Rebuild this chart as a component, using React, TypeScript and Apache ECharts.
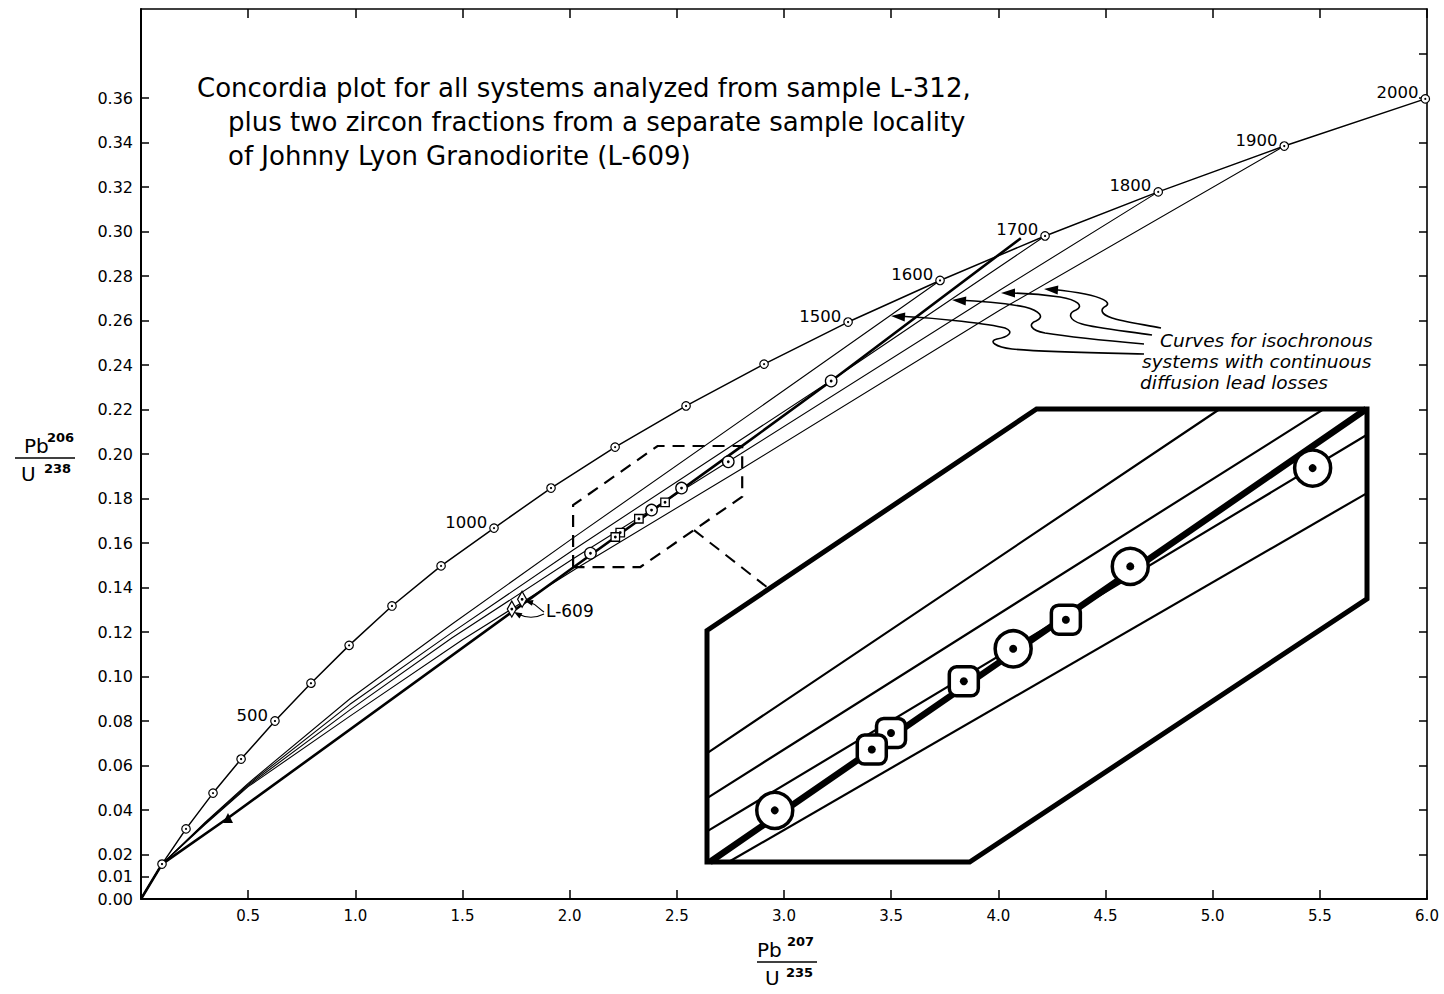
import React, { useEffect, useRef } from "react";
import * as echarts from "echarts";

// ---------- data ----------
const X_TICKS = [0.5, 1.0, 1.5, 2.0, 2.5, 3.0, 3.5, 4.0, 4.5, 5.0, 5.5, 6.0];
const Y_TICKS = [0.0, 0.01, 0.02, 0.04, 0.06, 0.08, 0.1, 0.12, 0.14, 0.16, 0.18, 0.2, 0.22, 0.24, 0.26, 0.28, 0.3, 0.32, 0.34, 0.36];
const Y_TICKS_RIGHT = [0.02, 0.04, 0.06, 0.08, 0.1, 0.12, 0.14, 0.16, 0.18, 0.2, 0.22, 0.24, 0.26, 0.28, 0.3, 0.32, 0.34, 0.36, 0.38];

const CONCORDIA_AGES = [100, 200, 300, 400, 500, 600, 700, 800, 900, 1000, 1100, 1200, 1300, 1400, 1500, 1600, 1700, 1800, 1900, 2000];
const CONCORDIA_X = [0.098, 0.21, 0.336, 0.467, 0.625, 0.793, 0.971, 1.171, 1.4, 1.647, 1.913, 2.212, 2.543, 2.907, 3.299, 3.728, 4.218, 4.746, 5.334, 5.992];
const CONCORDIA_Y = [0.0157, 0.0315, 0.0476, 0.0629, 0.08, 0.097, 0.114, 0.1317, 0.1497, 0.1667, 0.1847, 0.2031, 0.2216, 0.2404, 0.2593, 0.278, 0.298, 0.3178, 0.3384, 0.3596];
const LABELED_AGES = [500, 1000, 1500, 1600, 1700, 1800, 1900, 2000];

const CURVE_1600 = [[0, 0], [0.098, 0.0157], [0.3, 0.0345], [0.5, 0.052], [0.975, 0.09], [1.45, 0.1235], [2.018, 0.1624], [2.982, 0.2274], [3.728, 0.278]];
const CURVE_1700 = [[0, 0], [0.098, 0.0157], [0.3, 0.0342], [0.5, 0.0515], [0.975, 0.0875], [1.45, 0.1197], [2.018, 0.157], [2.736, 0.2025], [3.22, 0.233], [4.218, 0.298]];
const CURVE_1800 = [[0, 0], [0.098, 0.0157], [0.3, 0.0339], [0.5, 0.051], [0.975, 0.085], [1.45, 0.1173], [2.018, 0.153], [2.8, 0.2002], [4.008, 0.2737], [4.746, 0.3178]];
const CURVE_1900 = [[0, 0], [0.098, 0.0157], [0.3, 0.0336], [0.5, 0.0505], [0.975, 0.0822], [1.5, 0.1165], [2.04, 0.1491], [2.805, 0.1935], [4.008, 0.2647], [5.334, 0.3384]];
const DATA_LINE = [[0, 0], [0.098, 0.0157], [0.406, 0.0364], [2.018, 0.1491], [2.8, 0.2033], [3.22, 0.2328], [4.105, 0.297]];

const CIRCLES = [[2.097, 0.1554], [2.382, 0.1748], [2.522, 0.1847], [2.74, 0.1965], [3.22, 0.2328]];
const SQUARES = [[2.236, 0.1647], [2.213, 0.1627], [2.323, 0.1709], [2.445, 0.1783]];
const DIAMONDS = [[1.73, 0.1303], [1.778, 0.1347]];
const TRIANGLES = [[0.406, 0.0364]];

// magnified region (dashed outline in main plot = outline of inset)
const BOX = [[2.016, 0.1492], [2.016, 0.177], [2.41, 0.2036], [2.805, 0.2036], [2.805, 0.1808], [2.33, 0.1492]];
const INSET_X = [2.016, 2.805];
const INSET_Y = [0.1492, 0.2036];
const CONNECTOR_FROM = [2.58, 0.1658];
const CONNECTOR_TO = [2.089, 0.1821];

const TITLE_LINES = [
  "Concordia plot for all systems analyzed from sample L-312,",
  "plus two zircon fractions from a separate sample locality",
  "of Johnny Lyon Granodiorite (L-609)",
];
const NOTE_LINES = ["Curves for isochronous", "systems with continuous", "diffusion lead losses"];

// ---------- decorative arrow paths ----------
const ARROW_PATHS = [
  "M 1144 354 C 1100 353, 1040 352, 1012 349 C 995 347, 988 341, 997 339 C 1008 337, 1015 332, 1005 328 C 990 324, 940 318, 897 316",
  "M 1144 344 C 1110 341, 1070 337, 1045 333 C 1030 330, 1028 324, 1036 321 C 1045 317, 1040 311, 1025 307 C 1005 303, 980 301, 957 300",
  "M 1152 335 C 1125 331, 1095 328, 1082 324 C 1068 320, 1068 313, 1076 310 C 1084 306, 1078 300, 1060 297 C 1040 294, 1020 293, 1006 293",
  "M 1161 328 C 1140 324, 1120 321, 1112 318 C 1100 314, 1100 309, 1106 306 C 1112 302, 1100 297, 1085 294 C 1070 291, 1058 290, 1049 289",
  "M 544 612 C 538 608, 536 604, 529 602",
  "M 544 614 C 538 617, 528 619, 518 614",
];
const ARROW_HEADS = [
  [[891, 316], [905, 317]],
  [[952, 300], [966, 301]],
  [[1001, 293], [1015, 293]],
  [[1044, 289], [1058, 290]],
  [[525, 601], [533, 603]],
  [[514, 612], [521, 616]],
];

ARROW_PATHS.forEach((d, i) => {
  echarts.graphic.registerShape("wavyArrow" + i, echarts.graphic.extendPath(d, {}) as any);
});

const FONT = '"DejaVu Sans", "Noto Sans", sans-serif';

function head(tip: number[], from: number[], len = 13, half = 4.2) {
  const dx = tip[0] - from[0];
  const dy = tip[1] - from[1];
  const l = Math.hypot(dx, dy) || 1;
  const ux = dx / l, uy = dy / l;
  const bx = tip[0] - ux * len, by = tip[1] - uy * len;
  return [tip, [bx - uy * half, by + ux * half], [bx + uy * half, by - ux * half]];
}

// Cyrus–Beck clip of a segment against a convex polygon (pixel space)
function clipSeg(a: number[], b: number[], poly: number[][]) {
  let area = 0;
  for (let i = 0; i < poly.length; i++) {
    const p = poly[i], q = poly[(i + 1) % poly.length];
    area += p[0] * q[1] - q[0] * p[1];
  }
  const s = area > 0 ? 1 : -1;
  let t0 = 0, t1 = 1;
  const dx = b[0] - a[0], dy = b[1] - a[1];
  for (let i = 0; i < poly.length; i++) {
    const p = poly[i], q = poly[(i + 1) % poly.length];
    const ex = q[0] - p[0], ey = q[1] - p[1];
    const num = s * (ex * (a[1] - p[1]) - ey * (a[0] - p[0]));
    const den = s * (ex * dy - ey * dx);
    if (Math.abs(den) < 1e-12) {
      if (num < 0) return null;
      continue;
    }
    const t = -num / den;
    if (den > 0) t0 = Math.max(t0, t);
    else t1 = Math.min(t1, t);
    if (t0 > t1) return null;
  }
  return [[a[0] + t0 * dx, a[1] + t0 * dy], [a[0] + t1 * dx, a[1] + t1 * dy]];
}

function clipPolyline(pts: number[][], poly: number[][]) {
  const lines: number[][][] = [];
  let cur: number[][] | null = null;
  for (let i = 0; i < pts.length - 1; i++) {
    const seg = clipSeg(pts[i], pts[i + 1], poly);
    if (!seg) { cur = null; continue; }
    if (cur && Math.hypot(cur[cur.length - 1][0] - seg[0][0], cur[cur.length - 1][1] - seg[0][1]) < 0.5) {
      cur.push(seg[1]);
    } else {
      cur = [seg[0], seg[1]];
      lines.push(cur);
    }
  }
  return lines;
}

const THIN_CURVES = [CURVE_1600, CURVE_1700, CURVE_1800, CURVE_1900];
const INSET_CURVES = [...THIN_CURVES, DATA_LINE];
const INSET_WIDTHS = [2.2, 2.2, 2.2, 2.2, 6.5];

const inInset = (p: number[]) => p[0] >= INSET_X[0] && p[0] <= INSET_X[1] && p[1] >= INSET_Y[0] && p[1] <= INSET_Y[1];

function buildOption(): any {
  const concordiaData: any[] = [{ value: [0, 0], symbol: "none" }];
  CONCORDIA_AGES.forEach((age, i) => {
    const labelled = LABELED_AGES.includes(age);
    concordiaData.push({
      value: [CONCORDIA_X[i], CONCORDIA_Y[i]],
      label: labelled
        ? { show: true, formatter: String(age), position: "left", distance: 1, offset: [-1, -6], color: "#000", fontSize: 16.5, fontFamily: FONT }
        : { show: false },
    });
  });
  const concordiaDots = CONCORDIA_X.map((x, i) => [x, CONCORDIA_Y[i]]);

  const axisLineStyle = { color: "#000", width: 2 };
  const tickStyle = { color: "#000", width: 1.5 };

  const series: any[] = [
    {
      type: "line", name: "concordia", xAxisIndex: 0, yAxisIndex: 0, data: concordiaData,
      symbol: "circle", symbolSize: 8.5, showSymbol: true,
      lineStyle: { color: "#000", width: 1.5 },
      itemStyle: { color: "#fff", borderColor: "#000", borderWidth: 1.2, opacity: 1 },
      z: 4,
    },
    {
      type: "scatter", xAxisIndex: 0, yAxisIndex: 0, data: concordiaDots, symbol: "circle", symbolSize: 2.2,
      itemStyle: { color: "#000", opacity: 1 }, z: 5, silent: true,
    },
    ...THIN_CURVES.map((c) => ({
      type: "line", xAxisIndex: 0, yAxisIndex: 0, data: c, symbol: "none", smooth: false,
      lineStyle: { color: "#000", width: 1.1 }, z: 2,
    })),
    {
      type: "line", xAxisIndex: 0, yAxisIndex: 0, data: DATA_LINE, symbol: "none",
      lineStyle: { color: "#000", width: 2.6 }, z: 3,
    },
    {
      type: "scatter", xAxisIndex: 0, yAxisIndex: 0, data: CIRCLES, symbol: "circle", symbolSize: 11.5,
      itemStyle: { color: "#fff", borderColor: "#000", borderWidth: 1.3, opacity: 1 }, z: 6,
    },
    {
      type: "scatter", xAxisIndex: 0, yAxisIndex: 0, data: SQUARES, symbol: "rect", symbolSize: 8.5,
      itemStyle: { color: "#fff", borderColor: "#000", borderWidth: 1.3, opacity: 1 }, z: 6,
    },
    {
      type: "scatter", xAxisIndex: 0, yAxisIndex: 0, data: DIAMONDS, symbol: "diamond", symbolSize: [9, 16],
      itemStyle: { color: "#fff", borderColor: "#000", borderWidth: 1.3, opacity: 1 }, z: 6,
    },
    {
      type: "scatter", xAxisIndex: 0, yAxisIndex: 0, data: TRIANGLES, symbol: "triangle", symbolSize: 10,
      itemStyle: { color: "#000", opacity: 1 }, z: 6,
    },
    {
      type: "scatter", xAxisIndex: 0, yAxisIndex: 0, data: [...CIRCLES, ...SQUARES, ...DIAMONDS], symbol: "circle", symbolSize: 2.8,
      itemStyle: { color: "#000", opacity: 1 }, z: 7, silent: true,
    },
    {
      type: "custom", xAxisIndex: 0, yAxisIndex: 0, data: [[2.4, 0.18]], z: 8, silent: true,
      renderItem: (_p: any, api: any) => ({
        type: "polygon",
        shape: { points: BOX.map((pt) => api.coord(pt)) },
        style: { fill: "none", stroke: "#000", lineWidth: 2.2, lineDash: [12, 8] },
      }),
    },
    // ----- inset -----
    {
      type: "custom", xAxisIndex: 2, yAxisIndex: 2, data: [[2.4, 0.18]], z: 10, silent: true,
      renderItem: (_p: any, api: any) => ({
        type: "polygon",
        shape: { points: BOX.map((pt) => api.coord(pt)) },
        style: { fill: "#fff", stroke: "none" },
      }),
    },
    {
      type: "custom", xAxisIndex: 2, yAxisIndex: 2, data: INSET_CURVES.map(() => [2.4, 0.18]), z: 11, silent: true,
      renderItem: (params: any, api: any) => {
        const idx = params.dataIndex;
        const hex = BOX.map((pt) => api.coord(pt));
        const px = INSET_CURVES[idx].map((pt) => api.coord(pt));
        const parts = clipPolyline(px, hex);
        return {
          type: "group",
          children: parts.map((pts) => ({
            type: "polyline",
            shape: { points: pts },
            style: { fill: "none", stroke: "#000", lineWidth: INSET_WIDTHS[idx], lineCap: "butt" },
          })),
        };
      },
    },
    {
      type: "custom", xAxisIndex: 2, yAxisIndex: 2, data: [[2.4, 0.18]], z: 12, silent: true,
      renderItem: (_p: any, api: any) => ({
        type: "polygon",
        shape: { points: BOX.map((pt) => api.coord(pt)) },
        style: { fill: "none", stroke: "#000", lineWidth: 5, lineJoin: "miter" },
      }),
    },
    {
      type: "scatter", xAxisIndex: 2, yAxisIndex: 2, data: CIRCLES.filter(inInset), symbol: "circle", symbolSize: 36,
      itemStyle: { color: "#fff", borderColor: "#000", borderWidth: 3.5, opacity: 1 }, z: 13,
    },
    {
      type: "scatter", xAxisIndex: 2, yAxisIndex: 2, data: SQUARES.filter(inInset), symbol: "roundRect", symbolSize: 29,
      itemStyle: { color: "#fff", borderColor: "#000", borderWidth: 3.5, opacity: 1 }, z: 13,
    },
    {
      type: "scatter", xAxisIndex: 2, yAxisIndex: 2, data: [...CIRCLES, ...SQUARES].filter(inInset), symbol: "circle", symbolSize: 8,
      itemStyle: { color: "#000", opacity: 1 }, z: 14, silent: true,
    },
  ];

  const graphic: any[] = [];
  TITLE_LINES.forEach((t, i) => {
    graphic.push({
      type: "text", x: i === 0 ? 197 : 228, y: 88 + i * 34, z: 20,
      style: { text: t, fontSize: 26, fontFamily: FONT, fill: "#000", textVerticalAlign: "middle", verticalAlign: "middle" },
    });
  });
  const noteX = [1160, 1142, 1140];
  NOTE_LINES.forEach((t, i) => {
    graphic.push({
      type: "text", x: noteX[i], y: 340 + i * 21, z: 20,
      style: { text: t, fontSize: 18.5, fontStyle: "italic", fontFamily: FONT, fill: "#000", textVerticalAlign: "middle", verticalAlign: "middle" },
    });
  });
  graphic.push({
    type: "text", x: 546, y: 611, z: 20,
    style: { text: "L-609", fontSize: 17, fontFamily: FONT, fill: "#000", textVerticalAlign: "middle", verticalAlign: "middle" },
  });
  ARROW_PATHS.forEach((_d, i) => {
    graphic.push({ type: "wavyArrow" + i, x: 0, y: 0, z: 20, shape: {}, style: { fill: "none", stroke: "#000", lineWidth: i < 4 ? 1.6 : 1.2 } });
  });
  ARROW_HEADS.forEach(([tip, from], i) => {
    graphic.push({ type: "polygon", z: 20, shape: { points: head(tip, from, i < 4 ? 14 : 8, i < 4 ? 4.5 : 3) }, style: { fill: "#000" } });
  });
  // axis titles (fractions)
  const frac = (x0: number, x1: number, ly: number, numX: number, supX: number, denX: number, dsupX: number, n: string, d: string) => [
    { type: "text", x: numX, y: ly - 12, z: 20, style: { text: "Pb", fontSize: 20, fontFamily: FONT, fill: "#000", textVerticalAlign: "middle", verticalAlign: "middle" } },
    { type: "text", x: supX, y: ly - 21, z: 20, style: { text: n, fontSize: 13, fontWeight: "bold", fontFamily: FONT, fill: "#000", textVerticalAlign: "middle", verticalAlign: "middle" } },
    { type: "line", z: 20, shape: { x1: x0, y1: ly, x2: x1, y2: ly }, style: { stroke: "#000", lineWidth: 1.6 } },
    { type: "text", x: denX, y: ly + 16, z: 20, style: { text: "U", fontSize: 20, fontFamily: FONT, fill: "#000", textVerticalAlign: "middle", verticalAlign: "middle" } },
    { type: "text", x: dsupX, y: ly + 10, z: 20, style: { text: d, fontSize: 13, fontWeight: "bold", fontFamily: FONT, fill: "#000", textVerticalAlign: "middle", verticalAlign: "middle" } },
  ];
  graphic.push(...frac(15, 75, 458, 24, 47, 21, 44, "206", "238"));
  graphic.push(...frac(757, 817, 962, 757, 787, 765, 786, "207", "235"));

  return {
    animation: false,
    backgroundColor: "#fff",
    grid: [
      { left: 141, top: 9, width: 1286, height: 890 },
      { left: 707, top: 409, width: 660, height: 453 },
    ],
    xAxis: [
      {
        gridIndex: 0, type: "value", position: "bottom", min: 0, max: 6,
        axisLine: { show: true, lineStyle: axisLineStyle },
        axisTick: { show: true, inside: true, length: 9, customValues: X_TICKS, lineStyle: tickStyle },
        axisLabel: { customValues: X_TICKS, formatter: (v: number) => v.toFixed(1), color: "#000", fontSize: 15, fontFamily: FONT, margin: 9 },
        splitLine: { show: false },
      },
      {
        gridIndex: 0, type: "value", position: "top", min: 0, max: 6,
        axisLine: { show: true, onZero: false, lineStyle: { color: "#000", width: 1.6 } },
        axisTick: { show: true, inside: true, length: 9, customValues: X_TICKS, lineStyle: tickStyle },
        axisLabel: { show: false },
        splitLine: { show: false },
      },
      { gridIndex: 1, type: "value", min: INSET_X[0], max: INSET_X[1], show: false, splitLine: { show: false } },
    ],
    yAxis: [
      {
        gridIndex: 0, type: "value", position: "left", min: 0, max: 0.4,
        axisLine: { show: true, lineStyle: axisLineStyle },
        axisTick: { show: true, inside: true, length: 8, customValues: Y_TICKS, lineStyle: tickStyle },
        axisLabel: { customValues: Y_TICKS, formatter: (v: number) => v.toFixed(2), color: "#000", fontSize: 16, fontFamily: FONT, margin: 8 },
        splitLine: { show: false },
      },
      {
        gridIndex: 0, type: "value", position: "right", min: 0, max: 0.4,
        axisLine: { show: true, onZero: false, lineStyle: { color: "#000", width: 1.6 } },
        axisTick: { show: true, inside: true, length: 8, customValues: Y_TICKS_RIGHT, lineStyle: tickStyle },
        axisLabel: { show: false },
        splitLine: { show: false },
      },
      { gridIndex: 1, type: "value", min: INSET_Y[0], max: INSET_Y[1], show: false, splitLine: { show: false } },
    ],
    series,
    graphic: { elements: graphic },
  };
}

export default function App() {
  const ref = useRef<HTMLDivElement>(null);
  useEffect(() => {
    if (!ref.current) return;
    const chart = echarts.init(ref.current, undefined, { renderer: "svg" });
    chart.setOption(buildOption());
    const p0 = chart.convertToPixel({ xAxisIndex: 0, yAxisIndex: 0 } as any, CONNECTOR_FROM) as number[];
    const p1 = chart.convertToPixel({ xAxisIndex: 2, yAxisIndex: 2 } as any, CONNECTOR_TO) as number[];
    if (p0 && p1) {
      chart.setOption({
        graphic: {
          elements: [
            {
              id: "connector", type: "line", z: 20,
              shape: { x1: p0[0], y1: p0[1], x2: p1[0], y2: p1[1] },
              style: { stroke: "#000", lineWidth: 2, lineDash: [12, 8] },
            },
          ],
        },
      });
    }
    return () => chart.dispose();
  }, []);
  return <div ref={ref} style={{ position: "fixed", left: 0, top: 0, width: 1444, height: 994, background: "#fff" }} />;
}
